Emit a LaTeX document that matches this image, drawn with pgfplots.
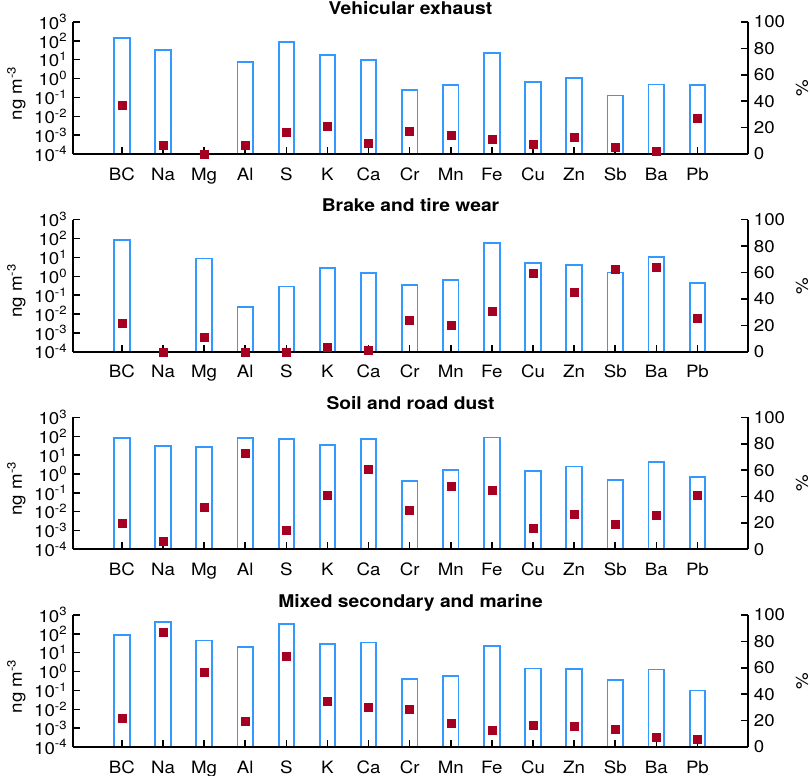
\documentclass[border=0pt]{standalone}
\usepackage{fontspec}
\setmainfont{TeX Gyre Heros}[FakeStretch=1.1]
\usepackage{pgfplots}
\usepackage{pgfplotstable}
\pgfplotsset{compat=1.18}

\definecolor{barblue}{RGB}{51,153,255}
\definecolor{markred}{RGB}{165,0,33}

% columns: element index, concentration (ng m-3), share (%)
\pgfplotstableread{
x conc pct
0 148 36.7
1 32 6.3
2 nan 0
3 7.4 6.3
4 83 16.5
5 17.5 20.8
6 9.5 8.1
7 0.25 17.2
8 0.47 14.2
9 22 11.1
10 0.65 7.1
11 1.1 12.4
12 0.126 5.1
13 0.48 2.5
14 0.47 27.3
}\vehicle

\pgfplotstableread{
x conc pct
0 87 21.9
1 nan 0
2 8.7 11.3
3 0.023 0
4 0.29 0
5 2.7 3.5
6 1.5 1.3
7 0.34 24.2
8 0.65 19.9
9 59 31.0
10 5.3 59.7
11 4.0 44.8
12 1.6 62.2
13 11 64.0
14 0.43 25.7
}\brake

\pgfplotstableread{
x conc pct
0 83 19.7
1 30 6.1
2 27 32.3
3 83 73.2
4 74 14.4
5 34 40.7
6 74 60.4
7 0.42 29.8
8 1.55 47.7
9 87 44.7
10 1.4 16.2
11 2.5 27.0
12 0.48 18.9
13 4.5 25.8
14 0.72 40.7
}\soil

\pgfplotstableread{
x conc pct
0 87 21.7
1 410 86.9
2 44 56.7
3 21 19.9
4 333 68.5
5 28 35.0
6 35 30.0
7 0.41 28.7
8 0.56 17.9
9 23 12.6
10 1.45 16.6
11 1.34 15.4
12 0.35 13.6
13 1.29 7.3
14 0.10 5.8
}\mixed

\pgfplotsset{
  panel/.style={
    scale only axis, width=675bp, height=132bp,
    xmin=-1.19, xmax=15.23, clip=false,
    axis line style={-, line width=2bp},
    tick align=inside, major tick length=7bp,
    tick style={black, line width=1.5bp},
  },
}

% #1 table, #2 title, #3 y of the axis bottom
\newcommand\panel[3]{%
\begin{axis}[panel, at={(73bp,#3)}, anchor=south west,
  ymode=log, ymin=1e-4, ymax=1e3, log origin=infty,
  axis x line*=bottom, axis y line*=left, axis on top,
  xtick={0,...,14},
  xticklabels={BC,Na,Mg,Al,S,K,Ca,Cr,Mn,Fe,Cu,Zn,Sb,Ba,Pb},
  xticklabel style={anchor=base, yshift=-26bp},
  ytick={1e-4,1e-3,1e-2,1e-1,1,1e1,1e2,1e3},
  yticklabels={10\textsuperscript{-4},10\textsuperscript{-3},10\textsuperscript{-2},10\textsuperscript{-1},10\textsuperscript{0},10\textsuperscript{1},10\textsuperscript{2},10\textsuperscript{3}},
  yminorticks=false,
  title={#2},
  title style={font=\fontsize{17.5bp}{20bp}\bfseries, anchor=base, at={(axis description cs:0.5,1)}, yshift=2bp},
  ylabel={ng m\textsuperscript{-3}},
  ylabel style={at={(axis description cs:-0.084,0.46)}, anchor=center},
]
\addplot[ybar, bar width=15.5bp, draw=barblue, line width=1.8bp, fill=white]
  table[x=x, y=conc] {#1};
\end{axis}
\begin{axis}[panel, at={(73bp,#3)}, anchor=south west,
  ymin=0, ymax=100,
  axis x line=none, axis y line*=right,
  ytick={0,20,...,100},
  yticklabels={0,20,40,60,80,100},
  ylabel={\%},
  ylabel style={at={(axis description cs:1.08,0.5)}, anchor=center},
]
\addplot[markred, only marks, mark=square*, mark size=4bp,
  mark options={fill=markred, draw=none}]
  table[x=x, y=pct] {#1};
\end{axis}}

\begin{document}
\fontsize{17bp}{20bp}\selectfont
\begin{tikzpicture}
\path[use as bounding box] (0,0) rectangle (810bp,-776bp);
\panel{\vehicle}{Vehicular exhaust}{-154bp}
\panel{\brake}{Brake and tire wear}{-351.7bp}
\panel{\soil}{Soil and road dust}{-549.4bp}
\panel{\mixed}{Mixed secondary and marine}{-747bp}
\end{tikzpicture}
\end{document}
